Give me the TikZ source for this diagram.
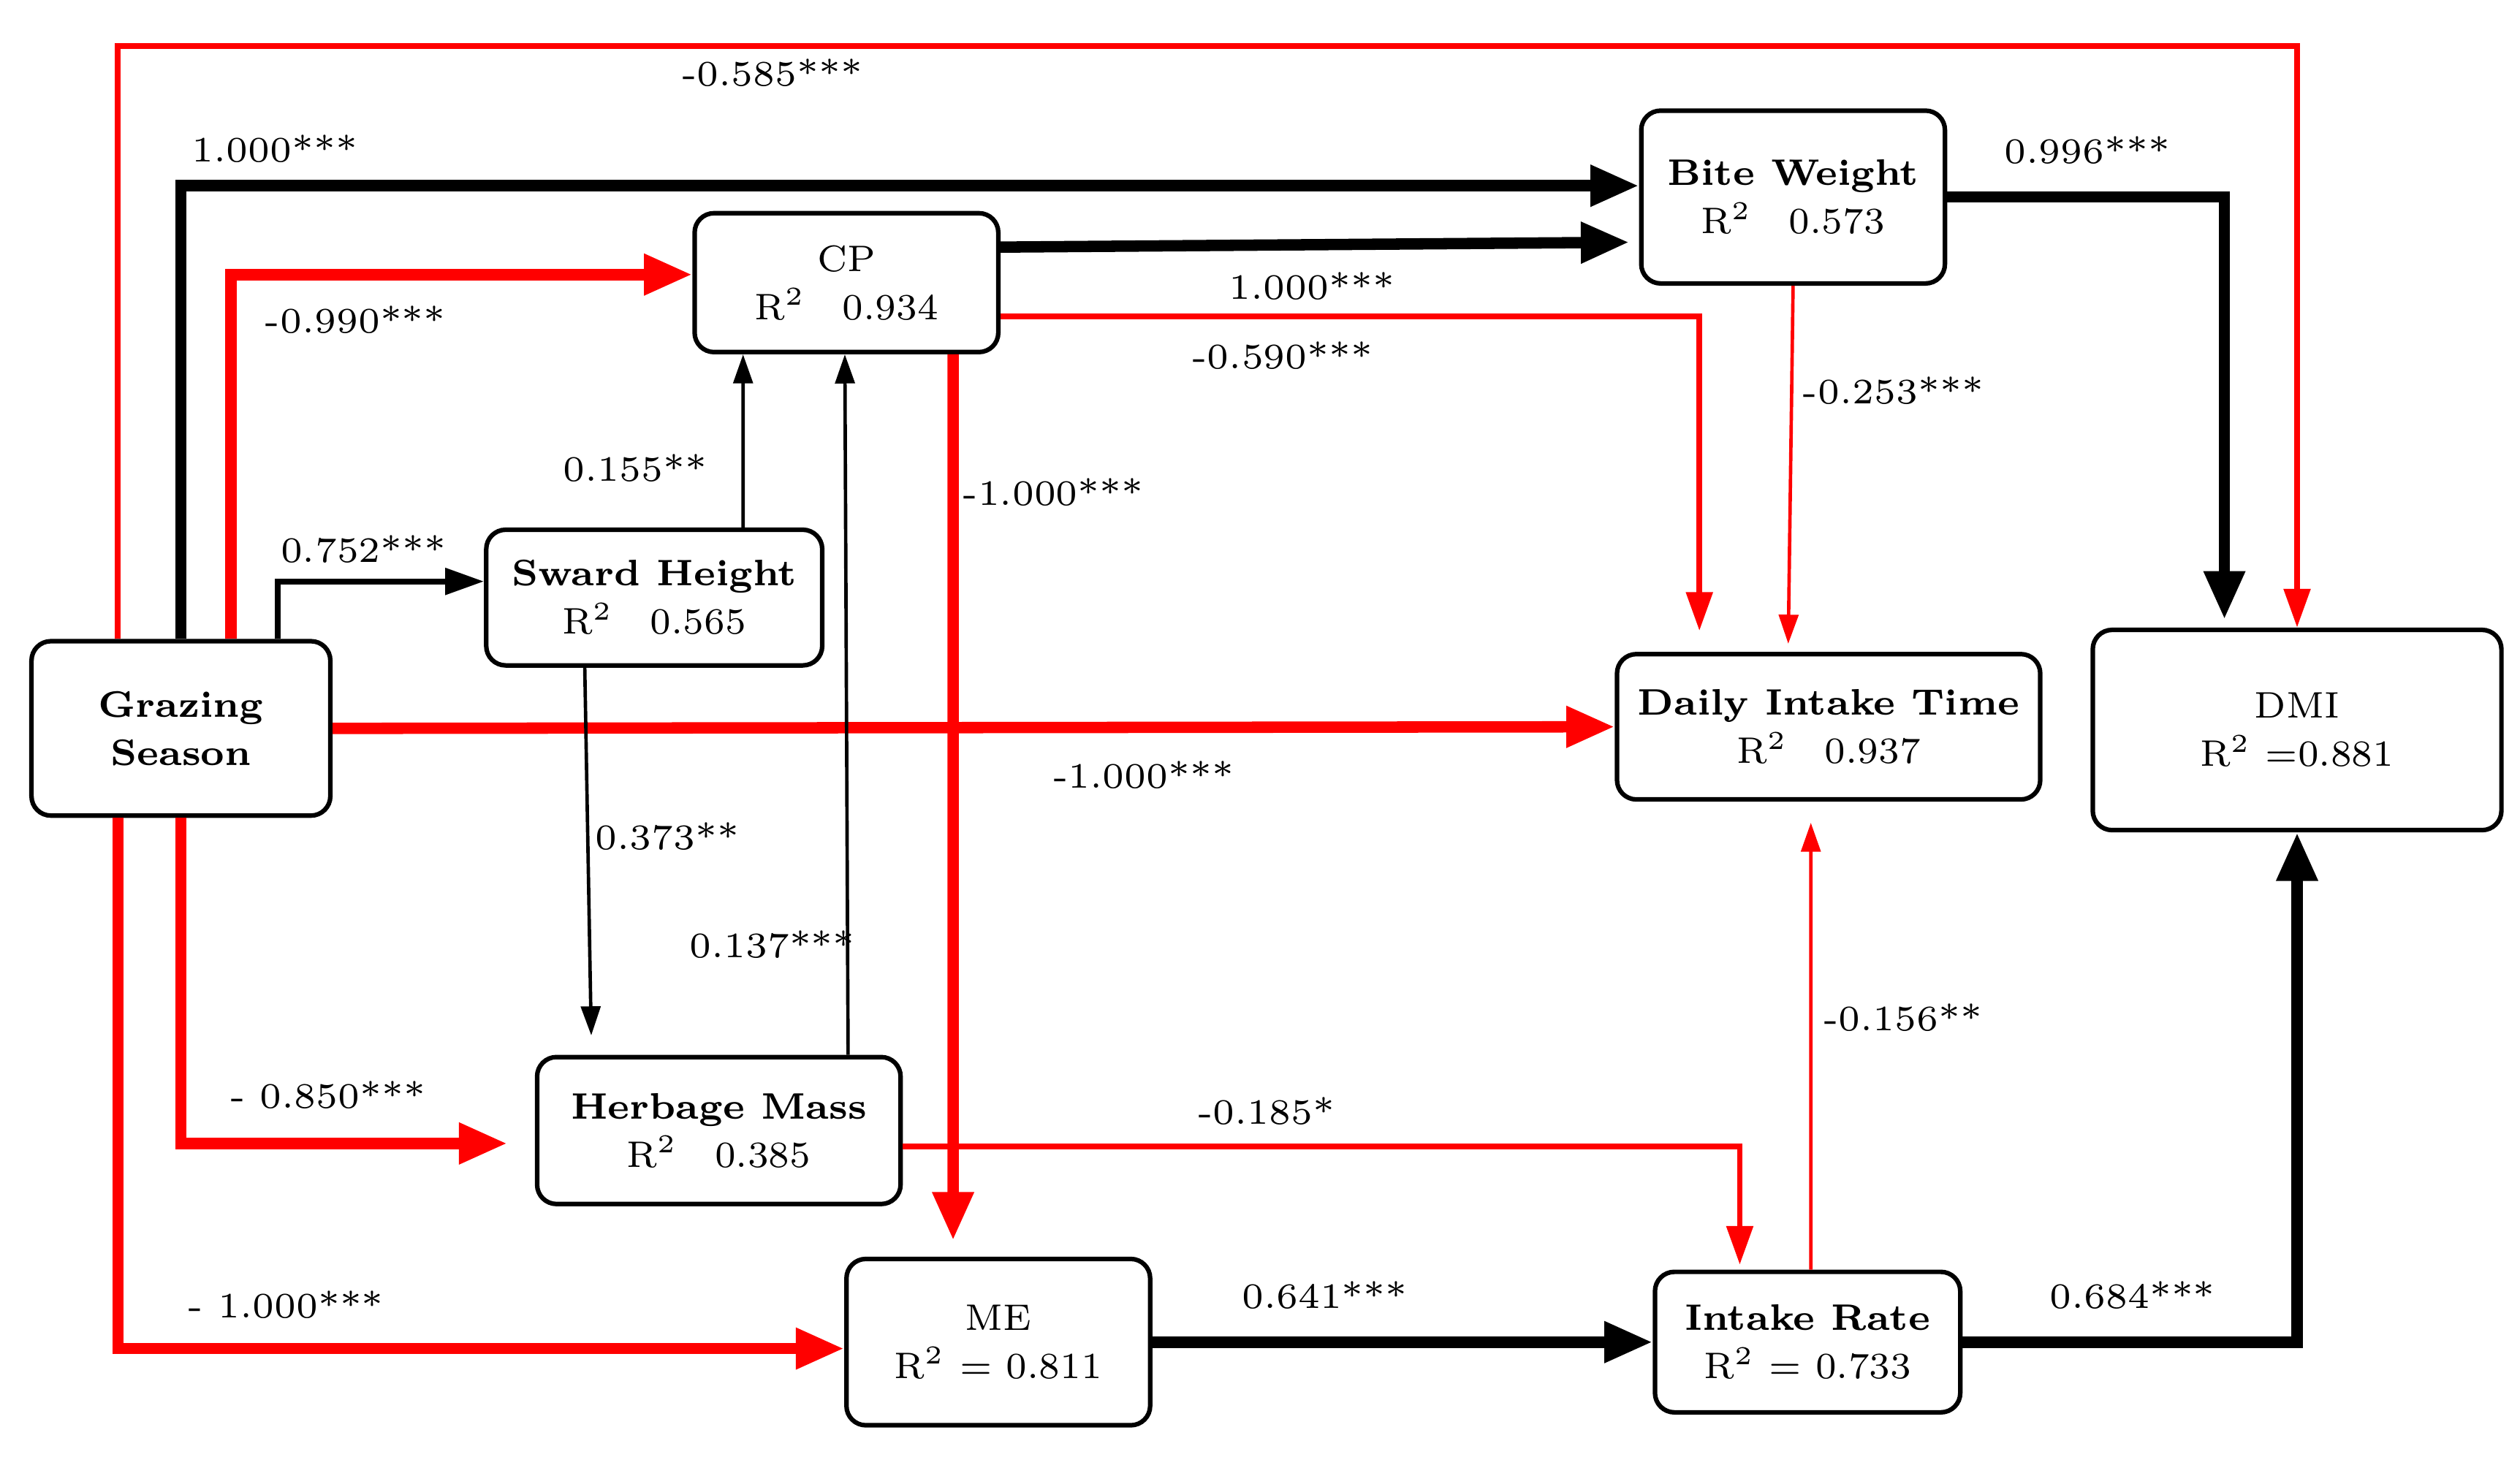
\documentclass[tikz,border=0pt]{standalone}
\usetikzlibrary{arrows.meta}
\begin{document}
\begin{tikzpicture}[x=0.1mm,y=-0.1mm,
  box/.style={draw,line width=0.8pt,rounded corners=1.2mm,align=center,font=\fontsize{6.5}{8.5}\selectfont,inner sep=0pt},
  lab/.style={font=\fontsize{6.3}{7}\selectfont},
  tk/.style={line width=2pt,-{Triangle[length=3mm,width=2.4mm]}},
  md/.style={line width=1pt,-{Triangle[length=2.4mm,width=1.6mm]}},
  tn/.style={line width=0.6pt,-{Triangle[length=1.8mm,width=1.2mm]}},
  red/.style={draw=red,color=red}]
\useasboundingbox (0,0) rectangle (1560,902);
\node[box,minimum width=18.5mm,minimum height=10.8mm] (gs) at (112,451) {\textbf{Grazing}\\\textbf{Season}};
\node[box,minimum width=18.8mm,minimum height=8.6mm] (cp) at (524,175) {CP\\R\textsuperscript{2}\quad 0.934};
\node[box,minimum width=20.8mm,minimum height=8.4mm] (sh) at (405,370) {\textbf{Sward Height}\\R\textsuperscript{2}\quad 0.565};
\node[box,minimum width=22.5mm,minimum height=9.1mm] (hm) at (445,700) {\textbf{Herbage Mass}\\R\textsuperscript{2}\quad 0.385};
\node[box,minimum width=18.8mm,minimum height=10.3mm] (me) at (618,831) {ME\\R\textsuperscript{2} = 0.811};
\node[box,minimum width=18.8mm,minimum height=10.7mm] (bw) at (1110,122) {\textbf{Bite Weight}\\R\textsuperscript{2}\quad 0.573};
\node[box,minimum width=26.2mm,minimum height=9mm] (dit) at (1132,450) {\textbf{Daily Intake Time}\\R\textsuperscript{2}\quad 0.937};
\node[box,minimum width=25.3mm,minimum height=12.4mm] (dmi) at (1422,452) {DMI\\R\textsuperscript{2} =0.881};
\node[box,minimum width=18.9mm,minimum height=8.7mm] (ir) at (1119,831) {\textbf{Intake Rate}\\R\textsuperscript{2} = 0.733};

% from grazing season
\draw[md,red] ([xshift=-3.9mm]gs.north) -- ++(0,-367) -| (dmi.north);
\draw[tk] (gs.north) |- ([yshift=0.7mm]bw.west);
\draw[tk,red] ([xshift=3.1mm]gs.north) |- ([yshift=0.5mm]cp.west);
\draw[md] ([xshift=6mm]gs.north) |- ([yshift=1mm]sh.west);
\draw[tk,red] (gs.east) -- (dit.west);
\draw[tk,red] (gs.south) |- ([xshift=-1.7mm,yshift=-0.8mm]hm.west);
\draw[tk,red] ([xshift=-3.9mm]gs.south) |- ([yshift=-0.4mm]me.west);
% internal
\draw[tn] ([xshift=5.5mm]sh.north) -- ([xshift=-6.4mm]cp.south);
\draw[tn] ([xshift=-4.3mm]sh.south) -- ([xshift=-7.9mm,yshift=1.2mm]hm.north);
\draw[tn] ([xshift=8mm]hm.north) -- ([xshift=-0.1mm]cp.south);
\draw[tk,red] ([xshift=6.6mm]cp.south) -- ([xshift=-2.8mm,yshift=1mm]me.north);
\draw[tk] ([yshift=2.2mm]cp.east) -- ([xshift=-0.6mm,yshift=-2.8mm]bw.west);
\draw[md,red] ([yshift=-2.1mm]cp.east) -| ([xshift=-8mm,yshift=1.3mm]dit.north);
\draw[tn,red] (bw.south) -- ([xshift=-2.5mm,yshift=0.5mm]dit.north);
\draw[tk] (bw.east) -| ([xshift=-4.5mm,yshift=0.5mm]dmi.north);
\draw[md,red] ([yshift=-1mm]hm.east) -| ([xshift=-4.2mm,yshift=0.3mm]ir.north);
\draw[tk] (me.east) -- (ir.west);
\draw[tn,red] ([xshift=0.2mm]ir.north) -- ([xshift=-1.1mm,yshift=-1.3mm]dit.south);
\draw[tk] (ir.east) -| (dmi.south);

% labels
\node[lab] (l1) at (478,45) {-0.585***};
\node[lab] (l2) at (170,92) {1.000***};
\node[lab] (l3) at (220,198) {-0.990***};
\node[lab] (l4) at (225,340) {0.752***};
\node[lab] (l5) at (708,480) {-1.000***};
\node[lab] (l6) at (203,678) {- 0.850***};
\node[lab] (l7) at (177,808) {- 1.000***};
\node[lab] (l8) at (393,290) {0.155**};
\node[lab] (l9) at (413,518) {0.373**};
\node[lab] (l10) at (478,585) {0.137***};
\node[lab] (l11) at (652,305) {-1.000***};
\node[lab] (l12) at (812,177) {1.000***};
\node[lab] (l13) at (794,220) {-0.590***};
\node[lab] (l14) at (1172,242) {-0.253***};
\node[lab] (l15) at (1292,93) {0.996***};
\node[lab] (l16) at (784,688) {-0.185*};
\node[lab] (l17) at (820,802) {0.641***};
\node[lab] (l18) at (1178,630) {-0.156**};
\node[lab] (l19) at (1320,802) {0.684***};
\end{tikzpicture}
\end{document}
